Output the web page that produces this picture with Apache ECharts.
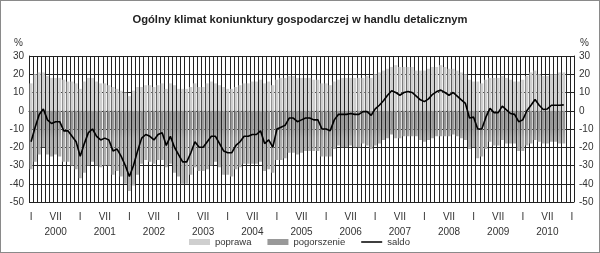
<!DOCTYPE html>
<html>
<head>
<meta charset="utf-8">
<script src="https://cdn.jsdelivr.net/npm/echarts@6/dist/echarts.min.js"></script>
<style>
html,body{margin:0;padding:0;background:#fff;}
#c{width:600px;height:253px;box-sizing:border-box;border:1px solid #8a8a8a;}
</style>
</head>
<body>
<div id="c"></div>
<script>
const years = [2000,2001,2002,2003,2004,2005,2006,2007,2008,2009,2010];
const monthLabels = ['I','II','III','IV','V','VI','VII','VIII','IX','X','XI','XII'];
const yTicks = [-50,-40,-30,-20,-10,0,10,20,30];

// poprawa (improvement), Jan 2000 - Nov 2010
const poprawa = [
 15,20,21,21,19,18,18,18,17,16,16,15,
 12,16,18,18,16,15,15,14,13,12,11,10,
 8,11,13,13,14,14,13,14,15,12,15,14,
 12,12,12,13,15,13,13,15,16,15,14,13,
 12,12,13,14,15,15,16,16,17,15,16,14,
 17,18,18,19,19,18,18,18,18,17,17,15,
 15,14,16,17,18,18,18,18,18,18,19,18,
 20,21,22,23,24,25,24,24,24,24,22,22,
 22,23,24,24,25,24,23,23,22,21,20,17,
 16,16,15,17,18,18,18,19,18,17,16,16,
 17,19,21,22,20,19,19,20,20,21,21
];
// pogorszenie (deterioration)
const pogorszenie = [
 -32,-28,-24,-20,-24,-25,-24,-25,-28,-28,-30,-32,
 -37,-34,-30,-28,-30,-31,-30,-30,-35,-33,-36,-40,
 -44,-41,-35,-29,-27,-28,-29,-27,-27,-31,-29,-34,
 -36,-40,-40,-35,-31,-33,-33,-32,-30,-28,-31,-35,
 -35,-36,-32,-31,-29,-29,-29,-29,-28,-33,-32,-34,
 -27,-27,-26,-23,-23,-24,-23,-22,-22,-22,-22,-25,
 -25,-25,-21,-19,-20,-20,-19,-20,-20,-18,-19,-21,
 -19,-18,-16,-15,-13,-15,-15,-14,-14,-14,-14,-16,
 -17,-16,-15,-14,-14,-14,-14,-13,-14,-15,-16,-21,
 -20,-26,-25,-21,-17,-19,-19,-16,-18,-18,-18,-22,
 -22,-19,-18,-16,-17,-18,-18,-17,-17,-18,-18
];
// saldo (balance)
const saldo = [
 -17,-9,-2,1,-5,-7,-6,-6,-11,-11,-14,-17,
 -25,-18,-12,-10,-14,-16,-15,-16,-22,-21,-25,-30,
 -36,-30,-22,-15,-13,-14,-16,-13,-12,-19,-14,-20,
 -24,-28,-28,-23,-17,-20,-20,-17,-14,-14,-18,-22,
 -23,-23,-19,-17,-14,-14,-13,-13,-11,-18,-16,-20,
 -10,-9,-8,-4,-4,-6,-5,-4,-4,-5,-5,-10,
 -10,-11,-5,-2,-2,-2,-1.5,-2,-2,-0.5,-0.5,-2.5,
 1,3,5.5,8.5,11,10,8.5,10,10.5,10,8,6,
 5,6.5,9,10.5,11.3,10,8.5,10,8,6,4,-4,
 -3.5,-10,-10,-3.5,1.3,-1,-1,2.5,0.5,-1.5,-2,-6,
 -5,0,3,6.2,3,0.7,1,3,3,3,3.2
];

const categories = [];
years.forEach(y => monthLabels.forEach(m => categories.push(m + ' ' + y)));
categories.push('I 2011');

const chart = echarts.init(document.getElementById('c'), null, {renderer:'canvas'});
const font = 'Liberation Sans, Arial, sans-serif';
const yAxisCommon = {
  type:'value', min:yTicks[0], max:yTicks[yTicks.length-1], interval:10,
  axisLine:{show:true, lineStyle:{color:'#222', width:1}},
  axisTick:{show:false},
  splitLine:{show:true, lineStyle:{color:'#222', width:1}},
  axisLabel:{fontFamily:font, fontSize:10, color:'#333', margin:5}
};
const lineIcon = 'path://M0,0L0.01,0L0.01,0.01Z M0,2.6L30,2.6L30,4.4L0,4.4Z M29.99,6.99L30,6.99L30,7Z';
chart.setOption({
  animation:false,
  backgroundColor:'#fff',
  textStyle:{fontFamily:font},
  title:{
    text:'Ogólny klimat koniunktury gospodarczej w handlu detalicznym',
    left:'center', top:8,
    textStyle:{fontFamily:font, fontSize:11.2, fontWeight:'bold', color:'#222'}
  },
  legend:{
    bottom:0, left:183, itemWidth:21, itemHeight:6, itemGap:16,
    textStyle:{fontFamily:font, fontSize:9.5, color:'#333'},
    data:[
      {name:'poprawa', icon:'rect'},
      {name:'pogorszenie', icon:'rect', itemStyle:{color:'#999999'}},
      {name:'saldo', icon:lineIcon, itemStyle:{color:'#000'}}
    ]
  },
  grid:{left:28, right:25, top:55, bottom:50},
  graphic:[
    {type:'text', left:13, top:37, style:{text:'%', font:'10px Liberation Sans, Arial', fill:'#333'}},
    {type:'text', left:579, top:37, style:{text:'%', font:'10px Liberation Sans, Arial', fill:'#333'}}
  ],
  xAxis:{
    type:'category', data:categories, boundaryGap:true,
    axisLine:{show:true, lineStyle:{color:'#222'}},
    axisTick:{show:false},
    splitLine:{show:true, interval:0, lineStyle:{color:'#222', width:1}},
    axisLabel:{
      interval:0, margin:8, fontFamily:font, fontSize:10, color:'#333', lineHeight:14.5,
      formatter:function(v, i){
        const m = i % 12;
        if (m === 0) return 'I';
        if (m === 6) return 'VII\n' + years[Math.floor(i/12)];
        return '';
      }
    }
  },
  yAxis:[
    Object.assign({position:'left'}, yAxisCommon),
    Object.assign({position:'right'}, yAxisCommon, {splitLine:{show:false}})
  ],
  series:[
    {name:'poprawa', type:'bar', stack:'s', data:poprawa, barWidth:'72%',
     itemStyle:{color:'#cfcfcf'}},
    {name:'pogorszenie', type:'bar', stack:'s', data:pogorszenie, barWidth:'72%',
     itemStyle:{color:'#9b9b9b'}},
    {name:'saldo', type:'line', data:saldo, showSymbol:false, symbol:'none',
     lineStyle:{color:'#000', width:1.6}, itemStyle:{color:'#000'}, z:5}
  ]
});

// shade the negative bars: darker near zero, lighter further down (as in the source image)
const yZero = chart.convertToPixel({yAxisIndex:0}, 0);
const yMin = chart.convertToPixel({yAxisIndex:0}, yTicks[0]);
const yA = chart.convertToPixel({yAxisIndex:0}, -10);
const yB = chart.convertToPixel({yAxisIndex:0}, -15);
const span = yMin - yZero;
chart.setOption({
  series:[{}, {
    itemStyle:{color:{
      type:'linear', global:true, x:0, y:yZero, x2:0, y2:yMin,
      colorStops:[
        {offset:0, color:'#969696'},
        {offset:(yA - yZero)/span, color:'#9a9a9a'},
        {offset:(yB - yZero)/span, color:'#adadad'},
        {offset:1, color:'#b4b4b4'}
      ]
    }}
  }, {}]
});
</script>
</body>
</html>
